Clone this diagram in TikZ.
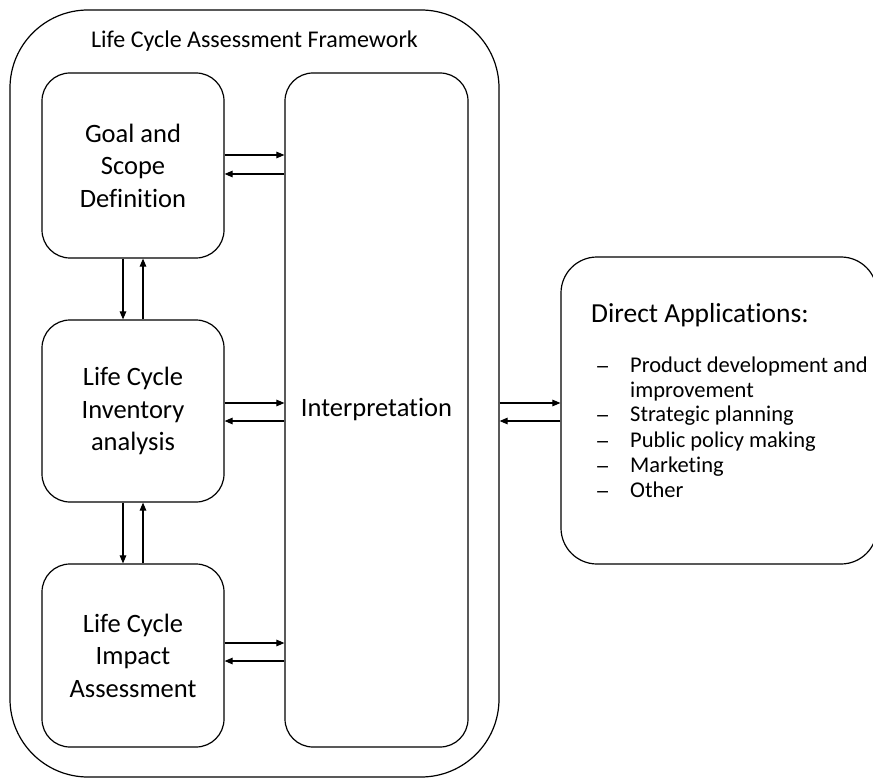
\documentclass[tikz,border=0pt]{standalone}
\usepackage{graphicx}
\usepackage{fontspec}
\setmainfont[Ligatures=NoCommon]{Carlito}
\usetikzlibrary{arrows.meta}

\newcommand{\listdashmark}{\scalebox{1.35}[1]{–}}

\tikzset{
  box/.style={draw, line width=1.2pt, rounded corners=28pt, inner sep=0pt,
    align=center, font=\fontsize{26.5}{32.5}\selectfont},
  flow/.style={line width=1.1pt, -{Triangle[length=8pt,width=6.5pt]}},
  listline/.style={anchor=base west, inner sep=0pt, font=\fontsize{22.5}{25}\selectfont},
}

\begin{document}
\begin{tikzpicture}[x=1pt, y=-1pt]
  \useasboundingbox (0,0) rectangle (873,778);

  % outer framework
  \node[draw, line width=1.2pt, rounded corners=78pt, minimum width=489pt,
        minimum height=767pt, inner sep=0pt] (frame) at (254.5,393.5) {};
  \node[anchor=base, inner sep=0pt, font=\fontsize{24}{28}\selectfont]
        (ftitle) at (254.5,48) {Life Cycle Assessment Framework};

  % phases
  \node[box, minimum width=182pt, minimum height=185pt] (goal) at (133,165.5)
        {Goal and\\Scope\\Definition};
  \node[box, minimum width=182pt, minimum height=182pt] (lci) at (133,411)
        {Life Cycle\\Inventory\\analysis};
  \node[box, minimum width=182pt, minimum height=183pt] (lcia) at (133,655.5)
        {Life Cycle\\Impact\\Assessment};
  \node[box, minimum width=183pt, minimum height=674pt] (interp) at (376.5,410)
        {Interpretation};

  % applications
  \node[draw, line width=1.2pt, rounded corners=36pt, minimum width=316pt,
        minimum height=307pt, inner sep=0pt] (apps) at (719,410.5) {};
  \node[anchor=base west, inner sep=0pt, font=\fontsize{27.5}{32}\selectfont]
        (appstitle) at (591,322) {Direct Applications:};
  \node[listline] (d1) at (595,373) {\listdashmark};
  \node[listline] (a1) at (630,372) {Product development and};
  \node[listline] (a1b) at (630,397) {improvement};
  \node[listline] (d2) at (595,422) {\listdashmark};
  \node[listline] (a2) at (630,421) {Strategic planning};
  \node[listline] (d3) at (595,448) {\listdashmark};
  \node[listline] (a3) at (630,447) {Public policy making};
  \node[listline] (d4) at (595,473) {\listdashmark};
  \node[listline] (a4) at (630,472) {Marketing};
  \node[listline] (d5) at (595,498) {\listdashmark};
  \node[listline] (a5) at (630,497) {Other};

  % phase <-> interpretation
  \foreach \n/\up/\dn in {goal/10.5/-8.5, lci/8/-10, lcia/12.5/-5.5} {
    \draw[flow] ([yshift=\up pt]\n.east) -- ([yshift=\up pt]\n.east -| interp.west);
    \draw[flow] ([yshift=\dn pt]\n.east -| interp.west) -- ([yshift=\dn pt]\n.east);
  }

  % phase <-> phase
  \draw[flow] ([xshift=-10pt]goal.south) -- ([xshift=-10pt]goal.south |- lci.north);
  \draw[flow] ([xshift=10pt]goal.south |- lci.north) -- ([xshift=10pt]goal.south);
  \draw[flow] ([xshift=-10pt]lci.south) -- ([xshift=-10pt]lci.south |- lcia.north);
  \draw[flow] ([xshift=10pt]lci.south |- lcia.north) -- ([xshift=10pt]lci.south);

  % framework <-> applications
  \draw[flow] ([yshift=7.5pt]frame.east |- apps.west) -- ([yshift=7.5pt]apps.west);
  \draw[flow] ([yshift=-10.5pt]apps.west) -- ([yshift=-10.5pt]frame.east |- apps.west);
\end{tikzpicture}
\end{document}
